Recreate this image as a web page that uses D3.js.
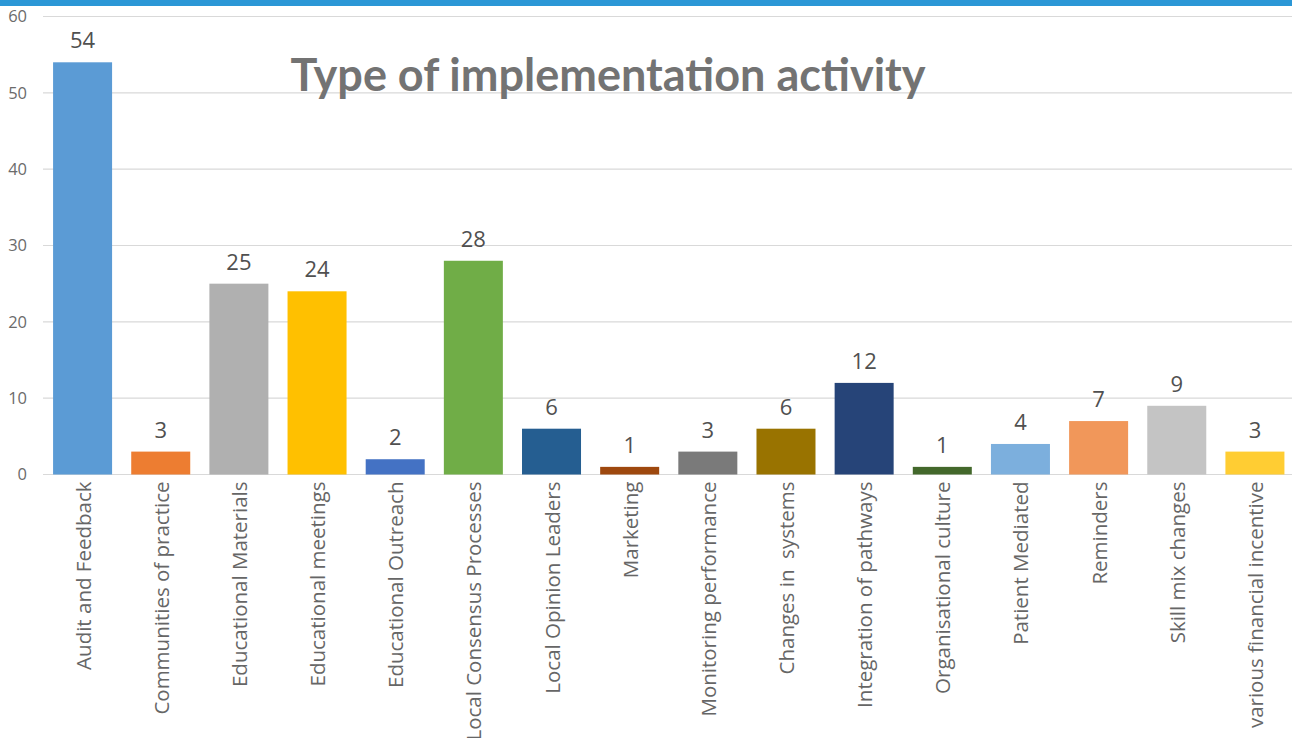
<!DOCTYPE html>
<html>
<head>
<meta charset="utf-8">
<script src="https://cdn.jsdelivr.net/npm/d3@7"></script>
<style>
  body { margin: 0; background: #fff; }
  svg { display: block; }
</style>
</head>
<body>
<div id="chart"></div>
<script>
// values
var categories = ['Audit and Feedback', 'Communities of practice', 'Educational Materials',
    'Educational meetings', 'Educational Outreach', 'Local Consensus Processes',
    'Local Opinion Leaders', 'Marketing', 'Monitoring performance', 'Changes in  systems',
    'Integration of pathways', 'Organisational culture', 'Patient Mediated', 'Reminders',
    'Skill mix changes', 'various financial incentive'];
var counts = [54, 3, 25, 24, 2, 28, 6, 1, 3, 6, 12, 1, 4, 7, 9, 3];
var barColors = ['#5b9bd5', '#ed7d31', '#b0b0b0', '#ffc000', '#4472c4', '#70ad47',
    '#255e91', '#9e480e', '#7a7a7a', '#997300', '#264478', '#43682b',
    '#7cafdd', '#f1975a', '#c4c4c4', '#ffcd33'];
var yTicks = [0, 10, 20, 30, 40, 50, 60];

var width = 1292, height = 738;

var svg = d3.select('#chart').append('svg')
    .attr('width', width)
    .attr('height', height);

// blue stripe along the top
svg.append('rect')
    .attr('x', 0).attr('y', 0)
    .attr('width', width).attr('height', 6)
    .attr('fill', '#2b97d6');

var x = d3.scaleBand()
    .domain(categories)
    .range([43.5, 1294])
    .paddingInner(0.245)
    .paddingOuter(0.1225);

var y = d3.scaleLinear()
    .domain([0, 60])
    .range([474.5, 16.5]);

// gridlines
svg.append('g')
    .selectAll('line')
    .data(yTicks)
    .enter()
    .append('line')
    .attr('x1', 43).attr('x2', width)
    .attr('y1', d => y(d)).attr('y2', d => y(d))
    .attr('stroke', '#d9d9d9')
    .attr('stroke-width', 1.2);

// y axis labels
var yAxis = d3.axisLeft(y).tickValues(yTicks).tickSize(0).tickPadding(0);
var yg = svg.append('g')
    .attr('transform', 'translate(27,0)')
    .call(yAxis);
yg.select('.domain').remove();
yg.selectAll('text')
    .attr('font-family', 'Open Sans')
    .attr('font-size', 16.5)
    .attr('fill', '#6b6b6b');

// title
svg.append('text')
    .attr('x', 608)
    .attr('y', 91)
    .attr('text-anchor', 'middle')
    .attr('font-family', 'Lato')
    .attr('font-weight', 'bold')
    .attr('font-size', 45)
    .attr('fill', '#737373')
    .text('Type of implementation activity');

// bars
svg.append('g')
    .selectAll('rect')
    .data(counts)
    .enter()
    .append('rect')
    .attr('x', (d, i) => x(categories[i]))
    .attr('y', d => y(d))
    .attr('width', x.bandwidth())
    .attr('height', d => y(0) - y(d))
    .attr('fill', (d, i) => barColors[i]);

// value labels
svg.append('g')
    .selectAll('text')
    .data(counts)
    .enter()
    .append('text')
    .attr('x', (d, i) => x(categories[i]) + x.bandwidth() / 2)
    .attr('y', d => y(d) - 14)
    .attr('text-anchor', 'middle')
    .attr('font-family', 'Open Sans')
    .attr('font-size', 22)
    .attr('fill', '#505050')
    .text(d => d);

// category labels, rotated
var xAxis = d3.axisBottom(x).tickSize(0).tickPadding(0);
var xg = svg.append('g')
    .attr('transform', 'translate(0,' + y(0) + ')')
    .call(xAxis);
xg.select('.domain').remove();
xg.selectAll('text')
    .attr('font-family', 'Open Sans')
    .attr('font-size', 20.5)
    .attr('fill', '#666666')
    .attr('text-anchor', 'end')
    .attr('dy', null)
    .attr('y', 0)
    .attr('x', 0)
    .attr('transform', 'translate(8,7) rotate(-90)')
    .style('white-space', 'pre');
</script>
</body>
</html>
